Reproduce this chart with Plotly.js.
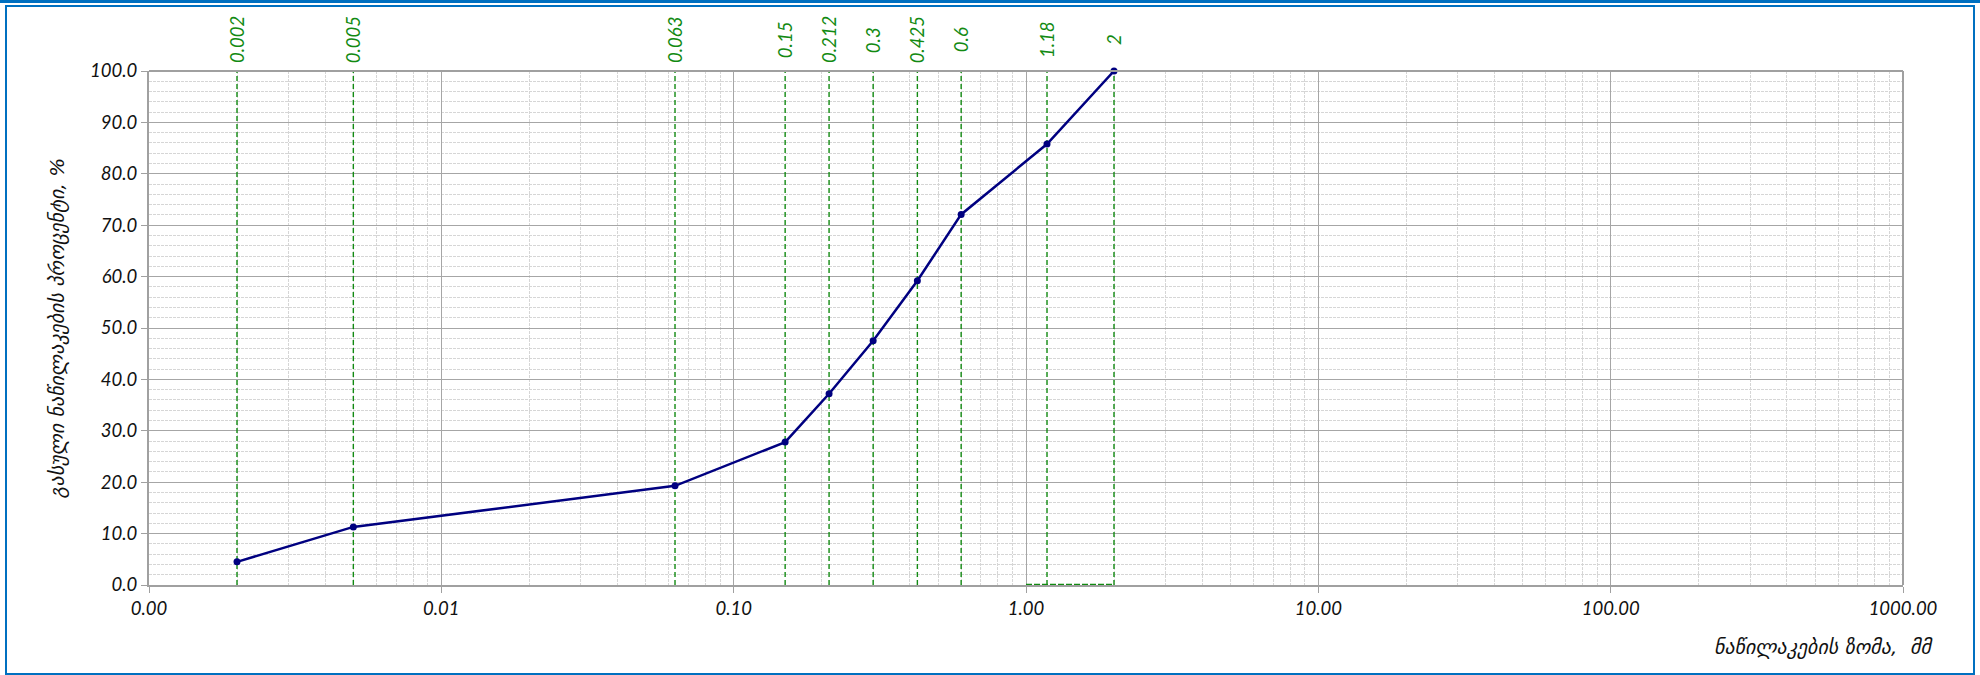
<!DOCTYPE html>
<html>
<head>
<meta charset="utf-8">
<script src="https://cdn.plot.ly/plotly-3.0.1.min.js"></script>
<style>
  html, body { margin: 0; padding: 0; background: #fff; }
  #chart { position: absolute; left: 0; top: 0; width: 1980px; height: 675px; }
  .frame { position: absolute; left: 5px; top: 5px; width: 1970px; height: 670px; box-sizing: border-box; border: 2.5px solid #0070C0; pointer-events: none; }
  .topline { position: absolute; left: 0; top: 0; width: 1980px; height: 3px; background: #0070C0; pointer-events: none; }
</style>
</head>
<body>
<div id="chart"></div>
<div class="topline"></div>
<div class="frame"></div>
<script>
// Sieve sizes, mm
const sieveSizes = [0.002, 0.005, 0.063, 0.15, 0.212, 0.3, 0.425, 0.6, 1.18, 2];
// Percent passing
const percentPassing = [4.5, 11.3, 19.3, 27.8, 37.2, 47.5, 59.2, 72.1, 85.8, 100];
// Sieve labels
const sieveLabels = ["0.002", "0.005", "0.063", "0.15", "0.212", "0.3", "0.425", "0.6", "1.18", "2"];
// X-axis ticks
const xTickVals = [0.001, 0.01, 0.1, 1, 10, 100, 1000];
const xTickText = ["0.00", "0.01", "0.10", "1.00", "10.00", "100.00", "1000.00"];
// Extra green segment at the base
const baseSegX = [1, 2];
const baseSegY = [0, 0];

const yTitle = "გასული ნაწილაკების პროცენტი, %";
const xTitle = "ნაწილაკების ზომა,  მმ";

const green = "#128A12";
const tickFont = {family: "Lato, 'Liberation Sans', sans-serif", size: 18.5, color: "#111", style: "italic"};

// vertical dashed sieve lines
const vx = [], vy = [];
sieveSizes.forEach(v => { vx.push(v, v, null); vy.push(0, 100, null); });

const traces = [
  {x: vx, y: vy, type: "scatter", mode: "lines", line: {color: green, width: 1.4, dash: "5px,3px"}, hoverinfo: "skip", showlegend: false, cliponaxis: false},
  {x: baseSegX, y: baseSegY, type: "scatter", mode: "lines", line: {color: green, width: 2.5, dash: "6px,2px"}, hoverinfo: "skip", showlegend: false, cliponaxis: false},
  {x: sieveSizes, y: percentPassing, type: "scatter", mode: "lines+markers",
   line: {color: "#000080", width: 2.5}, marker: {color: "#000080", size: 7}, showlegend: false, cliponaxis: false}
];

const annotations = sieveSizes.map((v, i) => ({
  x: Math.log10(v), xref: "x", y: 1, yref: "paper",
  text: sieveLabels[i], showarrow: false, textangle: -90,
  xanchor: "center", yanchor: "middle", yshift: 31,
  font: {family: "Lato, 'Liberation Sans', sans-serif", size: 18.5, color: green, style: "italic"}
}));
annotations.push({
  x: 1, xref: "paper", y: 0, yref: "paper", xanchor: "right", yanchor: "middle",
  xshift: 32, yshift: -62, showarrow: false, text: xTitle,
  font: {family: "'DejaVu Sans', sans-serif", size: 20, color: "#111", style: "italic"}
});

const layout = {
  width: 1980, height: 675,
  margin: {l: 149, r: 77, t: 71, b: 90},
  paper_bgcolor: "#fff", plot_bgcolor: "#fff",
  font: tickFont,
  xaxis: {
    type: "log", range: [-3, 3], tickmode: "array", tickvals: xTickVals, ticktext: xTickText,
    showgrid: true, gridcolor: "#a6a6a6", gridwidth: 1,
    showline: true, linecolor: "#a0a0a0", linewidth: 2,
    ticks: "outside", ticklen: 6, tickcolor: "#a0a0a0", tickwidth: 1,
    tickfont: tickFont, zeroline: false, mirror: false,
    minor: {dtick: "D1", showgrid: true, gridcolor: "#d6d6d6", griddash: "3px,1px", gridwidth: 1, ticks: ""}
  },
  yaxis: {
    range: [0, 100], dtick: 10, tickformat: ".1f",
    showgrid: true, gridcolor: "#a6a6a6", gridwidth: 1,
    showline: true, linecolor: "#a0a0a0", linewidth: 2,
    ticks: "outside", ticklen: 6, tickcolor: "#a0a0a0", tickwidth: 1,
    tickfont: tickFont, zeroline: false,
    title: {text: yTitle, font: {family: "'DejaVu Sans', sans-serif", size: 20, color: "#111", style: "italic"}, standoff: 20},
    minor: {dtick: 2, showgrid: true, gridcolor: "#d6d6d6", griddash: "3px,1px", gridwidth: 1, ticks: ""}
  },
  shapes: [
    {type: "line", xref: "paper", yref: "paper", x0: 1, x1: 1, y0: 0, y1: 1, line: {color: "#a0a0a0", width: 2}},
    {type: "line", xref: "paper", yref: "paper", x0: 0, x1: 1, y0: 1, y1: 1, line: {color: "#a0a0a0", width: 2}}
  ],
  annotations: annotations
};

Plotly.newPlot("chart", traces, layout, {displayModeBar: false, staticPlot: true});
</script>
</body>
</html>
